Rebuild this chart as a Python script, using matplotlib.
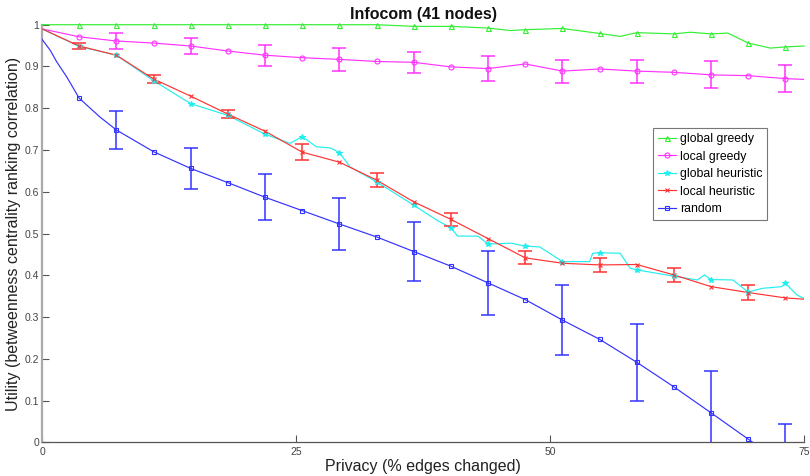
import matplotlib
matplotlib.use("Agg")
import matplotlib.pyplot as plt
import numpy as np

plt.rcParams['font.family'] = ['Liberation Sans', 'DejaVu Sans']

# ---------------- data ----------------
privacy = [0, 3.66, 7.32, 10.98, 14.63, 18.29, 21.95, 25.61, 29.27, 32.93, 36.59,
           40.24, 43.90, 47.56, 51.22, 54.88, 58.54, 62.20, 65.85, 69.51, 73.17, 75]

global_greedy = [1.0, 1.0, 1.0, 1.0, 1.0, 1.0, 1.0, 1.0, 1.0, 1.0, 0.996,
                 0.996, 0.992, 0.988, 0.991, 0.979, 0.981, 0.978, 0.978, 0.956, 0.947, 0.949]
global_greedy_extra_x = [46.1, 56.9, 63.8, 67.5, 71.7]
global_greedy_extra_y = [0.986, 0.972, 0.982, 0.980, 0.944]

local_greedy = [0.99, 0.971, 0.961, 0.956, 0.949, 0.937, 0.927, 0.921, 0.917, 0.912, 0.910,
                0.899, 0.895, 0.906, 0.889, 0.894, 0.889, 0.886, 0.880, 0.878, 0.871, 0.869]

global_heuristic = [0.99, 0.948, 0.927, 0.866, 0.811, 0.783, 0.738, 0.732, 0.694, 0.624, 0.568,
                    0.514, 0.475, 0.470, 0.433, 0.454, 0.413, 0.398, 0.390, 0.360, 0.381, 0.345]
global_heuristic_extra_x = [24.4, 27.0, 28.4, 30.3, 39.0, 40.9, 42.9, 46.2, 49.0,
                            53.9, 54.2, 56.9, 57.9, 59.8, 64.5, 65.2, 68.0, 70.9, 72.8, 74.3]
global_heuristic_extra_y = [0.716, 0.708, 0.705, 0.660, 0.530, 0.494, 0.494, 0.477, 0.468,
                            0.433, 0.453, 0.453, 0.417, 0.408, 0.389, 0.401, 0.389, 0.369, 0.373, 0.353]

local_heuristic = [0.99, 0.949, 0.927, 0.870, 0.829, 0.786, 0.745, 0.695, 0.671, 0.628, 0.576,
                   0.534, 0.488, 0.442, 0.429, 0.425, 0.426, 0.401, 0.373, 0.359, 0.346, 0.343]

random_ = [0.965, 0.824, 0.748, 0.696, 0.656, 0.622, 0.587, 0.555, 0.523, 0.492, 0.457,
           0.422, 0.382, 0.342, 0.293, 0.247, 0.192, 0.133, 0.071, 0.008, -0.055, -0.085]
random_extra_x = [0.8, 1.45, 2.43, 5.7]
random_extra_y = [0.939, 0.911, 0.875, 0.779]

# error bars: local greedy & random at even markers, local heuristic at odd markers
even_idx = [2, 4, 6, 8, 10, 12, 14, 16, 18, 20]
odd_idx = [1, 3, 5, 7, 9, 11, 13, 15, 17, 19]
local_greedy_err = [0.0185, 0.018, 0.025, 0.027, 0.0245, 0.0295, 0.0275, 0.0275, 0.032, 0.033]
local_heuristic_err = [0.0065, 0.009, 0.0105, 0.019, 0.016, 0.0155, 0.0155, 0.0175, 0.0165, 0.0175]
random_err = [0.0445, 0.050, 0.0555, 0.062, 0.0705, 0.076, 0.0845, 0.0925, 0.099, 0.099]

labels = ['global greedy', 'local greedy', 'global heuristic', 'local heuristic', 'random']
title = 'Infocom (41 nodes)'
xlabel = 'Privacy (% edges changed)'
ylabel = 'Utility (betweenness centrality ranking correlation)'
xticks = [0, 25, 50, 75]
yticks = [0, 0.1, 0.2, 0.3, 0.4, 0.5, 0.6, 0.7, 0.8, 0.9, 1]
ytick_labels = ['0', '0.1', '0.2', '0.3', '0.4', '0.5', '0.6', '0.7', '0.8', '0.9', '1']

# ---------------- plot ----------------
fig = plt.figure(figsize=(8.1, 4.76), dpi=100)
ax = fig.add_axes([0.0519, 0.0704, 0.9407, 0.8777])

c_green = '#33ee33'
c_mag = '#ff33ff'
c_cyan = '#22eeee'
c_red = '#ff3333'
c_blue = '#3333ff'
lw = 0.85

def merged(xs, ys, ex, ey):
    X = np.array(list(xs) + list(ex))
    Y = np.array(list(ys) + list(ey))
    o = np.argsort(X)
    return X[o], Y[o]

mk_idx = list(range(1, 21))
px = np.array(privacy)

def draw(y, ex, ey, color, marker, ms, label, mfc='none', mew=0.8, clip=True):
    X, Y = merged(privacy, y, ex, ey)
    ax.plot(X, Y, color=color, lw=lw, zorder=3, clip_on=clip)
    yy = np.array(y)
    vis = yy[mk_idx] >= 0
    ax.plot(px[mk_idx][vis], yy[mk_idx][vis], linestyle='none', marker=marker, ms=ms,
            mfc=mfc, mec=color, mew=mew, color=color, zorder=4, clip_on=False)
    ax.plot([], [], color=color, lw=lw, marker=marker, ms=ms, mfc=mfc, mec=color,
            mew=mew, label=label)

draw(global_greedy, global_greedy_extra_x, global_greedy_extra_y, c_green, '^', 3.6,
     labels[0], clip=False)
draw(local_greedy, [], [], c_mag, 'o', 3.6, labels[1])
draw(global_heuristic, global_heuristic_extra_x, global_heuristic_extra_y, c_cyan, '*', 4,
     labels[2], mfc=c_cyan)
draw(local_heuristic, [], [], c_red, 'x', 3, labels[3])
draw(random_, random_extra_x, random_extra_y, c_blue, 's', 3, labels[4])

ax.errorbar(px[even_idx], np.array(local_greedy)[even_idx], yerr=local_greedy_err,
            fmt='none', ecolor=c_mag, elinewidth=1.1, capsize=5, capthick=1.1, zorder=3)
ax.errorbar(px[odd_idx], np.array(local_heuristic)[odd_idx], yerr=local_heuristic_err,
            fmt='none', ecolor=c_red, elinewidth=1.1, capsize=5, capthick=1.1, zorder=3)
ax.errorbar(px[even_idx], np.array(random_)[even_idx], yerr=random_err,
            fmt='none', ecolor=c_blue, elinewidth=1.1, capsize=5, capthick=1.1, zorder=3)

ax.set_xlim(0, 75)
ax.set_ylim(0, 1)
ax.set_xticks(xticks)
ax.set_xticklabels([str(t) for t in xticks])
ax.set_yticks(yticks)
ax.set_yticklabels(ytick_labels)
ax.tick_params(direction='in', length=5, width=0.8, colors='#555555', labelsize=7.5,
               labelcolor='#444444')
ax.tick_params(axis='x', pad=3)
ax.tick_params(axis='y', pad=2)

for s in ['top', 'right']:
    ax.spines[s].set_visible(False)
ax.spines['left'].set_color('#aaaaaa')
ax.spines['left'].set_linewidth(1.6)
ax.spines['bottom'].set_color('#555555')
ax.spines['bottom'].set_linewidth(0.9)

ax.set_title(title, fontsize=11.5, fontweight='bold', pad=4, color='#111111')
ax.set_xlabel(xlabel, fontsize=11.5, labelpad=2, color='#222222')
ax.set_ylabel(ylabel, fontsize=11.5, labelpad=3, color='#222222')

leg = ax.legend(loc='upper left', bbox_to_anchor=(0.802, 0.752), fontsize=8.8,
                frameon=True, fancybox=False, edgecolor='#777777', framealpha=1,
                handlelength=1.5, handletextpad=0.3, borderpad=0.4, labelspacing=0.45,
                borderaxespad=0)
leg.get_frame().set_linewidth(0.8)

fig.savefig('out.png', dpi=100)
